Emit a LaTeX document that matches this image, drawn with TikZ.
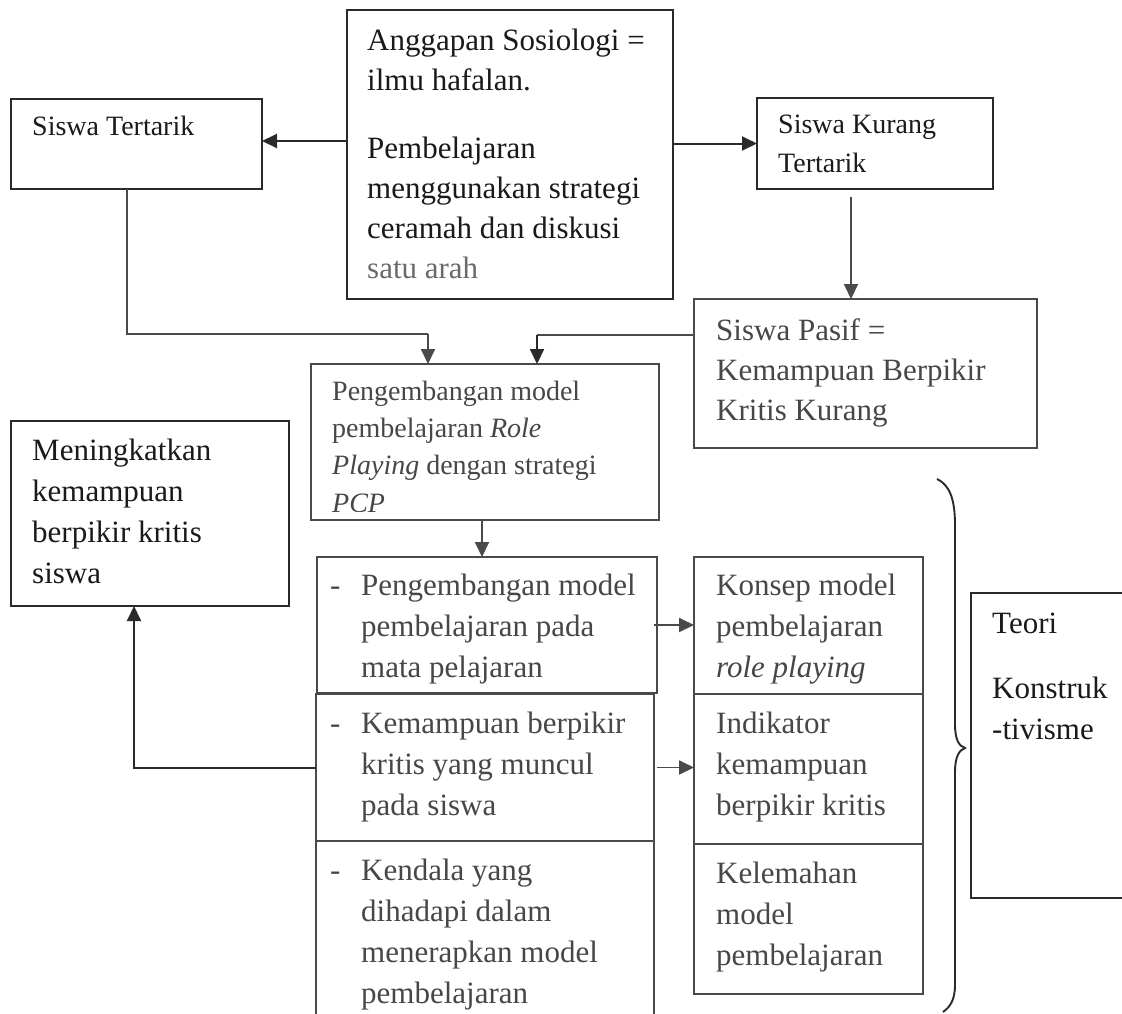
\documentclass[tikz,border=0pt]{standalone}
\usepackage{fontspec}
\setmainfont{Liberation Serif}
\usetikzlibrary{arrows.meta}
\definecolor{ink}{HTML}{1A1A1A}
\definecolor{inkgray}{HTML}{474747}
\definecolor{lightink}{HTML}{6A6A6A}
\definecolor{edgedark}{HTML}{2A2A2A}
\definecolor{edgegray}{HTML}{4A4A4A}
\newcommand{\fA}{\fontsize{28}{40}\selectfont}
\newcommand{\fB}{\fontsize{31}{40}\selectfont}
\newcommand{\fC}{\fontsize{31}{41}\selectfont}
\newcommand{\fP}{\fontsize{28}{37.3}\selectfont}
\newcommand{\fK}{\fontsize{28}{39}\selectfont}
\newcommand{\dashitem}{\makebox[31pt][l]{-}}
\newcommand{\hang}{\hspace*{31pt}}
\begin{document}
\begin{tikzpicture}[x=1pt,y=-1pt,
  boxdark/.style={draw=edgedark,line width=2pt,anchor=north west,inner sep=0pt,outer sep=0pt},
  boxgray/.style={draw=edgegray,line width=1.9pt,anchor=north west,inner sep=0pt,outer sep=0pt},
  txt/.style={anchor=north west,inner sep=0pt,align=left,text=ink},
  txtgray/.style={anchor=north west,inner sep=0pt,align=left,text=inkgray},
  arr/.style={line width=2pt,draw=edgedark,-{Triangle[length=15pt,width=14pt]}},
  arrgray/.style={line width=1.9pt,draw=edgegray,-{Triangle[length=15pt,width=14pt]}},
  link/.style={line width=1.9pt,draw=edgegray}]
\clip (0,0) rectangle (1122,1013);
\fill[white] (0,0) rectangle (1122,1013);

% boxes
\node[boxdark,minimum width=251pt,minimum height=90pt] (ST) at (11,99) {};
\node[boxdark,minimum width=326pt,minimum height=289pt] (AN) at (347,10) {};
\node[boxdark,minimum width=236pt,minimum height=91pt] (SK) at (757,98) {};
\node[boxgray,minimum width=343pt,minimum height=149pt] (SP) at (694,299) {};
\node[boxgray,minimum width=348pt,minimum height=156pt] (PM) at (311,364) {};
\node[boxdark,minimum width=278pt,minimum height=185pt] (MK) at (11,421) {};
\node[boxgray,minimum width=340pt,minimum height=136pt] (L1) at (317,557) {};
\node[boxgray,minimum width=338pt,minimum height=147pt] (L2) at (316,694) {};
\node[boxgray,minimum width=338pt,minimum height=200pt] (L3) at (316,841) {};
\node[boxgray,minimum width=229pt,minimum height=137pt] (KM) at (694,557) {};
\node[boxgray,minimum width=229pt,minimum height=150pt] (IN) at (694,694) {};
\node[boxgray,minimum width=229pt,minimum height=150pt] (KL) at (694,844) {};
\node[boxdark,minimum width=170pt,minimum height=305pt] (TE) at (971,593) {};

% texts
\node[txt,font=\fA] (tST) at (32,107) {\strut Siswa Tertarik};
\node[txt,font=\fB] (tAN) at (367,22) {\strut Anggapan Sosiologi =\\
  \strut ilmu hafalan.\\[28pt]
  \strut Pembelajaran\\
  \strut menggunakan strategi\\
  \strut ceramah dan diskusi\\
  \strut\textcolor{lightink}{satu arah}};
\node[txt,font=\fK] (tSK) at (778,105.7) {\strut Siswa Kurang\\ \strut Tertarik};
\node[txtgray,font=\fB] (tSP) at (716,312) {\strut Siswa Pasif =\\
  \strut Kemampuan Berpikir\\
  \strut Kritis Kurang};
\begin{scope}
\clip (312,365) rectangle (658,511);
\node[txtgray,font=\fP] (tPM) at (332,373.9) {\strut Pengembangan model\\
  \strut pembelajaran \textit{Role}\\
  \strut\textit{Playing} dengan strategi\\
  \strut\textit{PCP}};
\end{scope}
\node[txt,font=\fC] (tMK) at (32,431.3) {\strut Meningkatkan\\
  \strut kemampuan\\
  \strut berpikir kritis\\
  \strut siswa};
\node[txtgray,font=\fC] (tL1) at (330,566.3) {\strut\dashitem Pengembangan model\\
  \strut\hang pembelajaran pada\\
  \strut\hang mata pelajaran};
\node[txtgray,font=\fC] (tL2) at (330,704.3) {\strut\dashitem Kemampuan berpikir\\
  \strut\hang kritis yang muncul\\
  \strut\hang pada siswa};
\node[txtgray,font=\fC] (tL3) at (330,851.3) {\strut\dashitem Kendala yang\\
  \strut\hang dihadapi dalam\\
  \strut\hang menerapkan model\\
  \strut\hang pembelajaran};
\node[txtgray,font=\fC] (tKM) at (716,566.3) {\strut Konsep model\\
  \strut pembelajaran\\
  \strut\textit{role playing}};
\node[txtgray,font=\fC] (tIN) at (716,704.3) {\strut Indikator\\
  \strut kemampuan\\
  \strut berpikir kritis};
\node[txtgray,font=\fC] (tKL) at (716,854.3) {\strut Kelemahan\\
  \strut model\\
  \strut pembelajaran};
\node[txt,font=\fC] (tTE) at (992,604.3) {\strut Teori\\[24pt]
  \strut Konstruk\\
  \strut -tivisme};

% junction coordinates
\coordinate (j1) at (428,334);
\coordinate (j2) at (537,335);
\coordinate (j3) at (851,197);

% connectors
\draw[arr] ([yshift=3pt]AN.west |- ST.east) -- ([yshift=3pt]ST.east);
\draw[arr] (AN.east |- SK.west) -- (SK.west);
\draw[arrgray] (j3) -- (j3 |- SP.north);
\draw[link] ([xshift=-9.5pt]ST.south) |- (j1);
\draw[arrgray] (j1) -- (j1 |- PM.north);
\draw[link] (SP.west |- j2) -- (j2);
\draw[arr] (j2) -- (j2 |- PM.north);
\draw[arrgray] ([xshift=-3pt]PM.south) -- ([xshift=-3pt]PM.south |- L1.north);
\draw[arrgray] ([xshift=-3pt]L1.east) -- (KM.west |- L1.east);
\draw[arrgray] ([xshift=3pt]L2.east) -- (IN.west |- L2.east);
\draw[arr] (L2.west) -| ([xshift=-16pt]MK.south);

% brace
\draw[line width=1.9pt,draw=edgedark] (937,479) .. controls (950,485) and (955,500) .. (955,525)
  -- (955,724) .. controls (955,740) and (959,746) .. (965,748)
  .. controls (959,750) and (955,757) .. (955,772)
  -- (955,985) .. controls (955,1000) and (950,1007) .. (943,1012);
\end{tikzpicture}
\end{document}
